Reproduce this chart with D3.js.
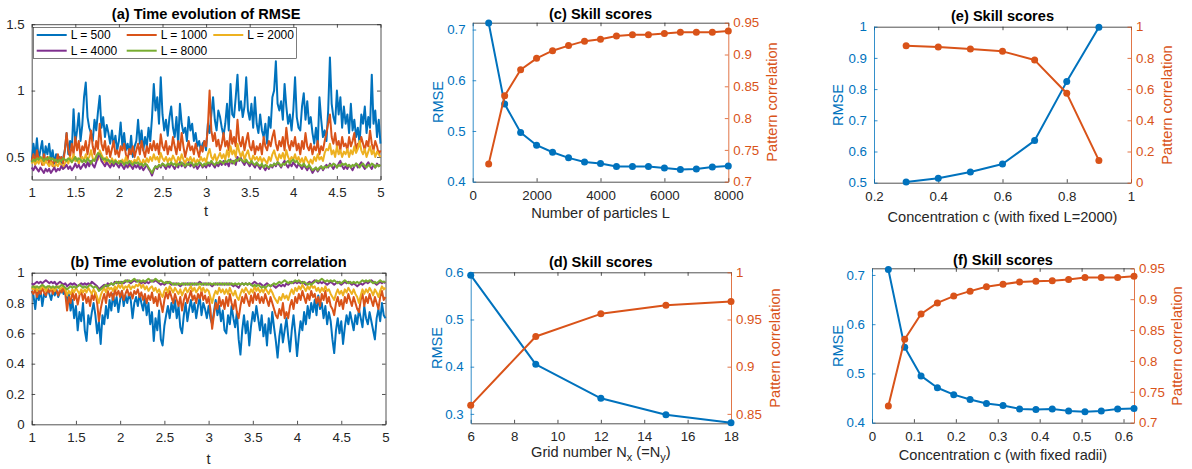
<!DOCTYPE html>
<html>
<head>
<meta charset="utf-8">
<script src="https://cdn.jsdelivr.net/npm/d3@7"></script>
<style>
body { margin: 0; background: #fff; }
text { font-family: "Liberation Sans", Arial, sans-serif; }
</style>
</head>
<body>
<svg id="chart" width="1192" height="469"></svg>
<script>
// time series sampled from t = 1 to 5
var tStart = 1, tStep = 0.02;

var rmse500 = [
 0.46,0.60,0.50,0.64,0.48,0.55,0.62,0.47,0.58,0.52, 0.60,0.48,0.55,0.45,0.52,0.47,0.50,0.44,0.49,0.55,
 0.68,0.52,0.62,0.55,0.86,0.60,0.70,0.83,0.62,0.74, 0.95,1.06,0.80,0.72,0.68,0.62,0.78,0.70,0.84,0.96,
 0.72,0.80,0.65,0.74,0.68,0.60,0.70,0.58,0.66,0.55, 0.62,0.76,0.58,0.68,0.55,0.60,0.52,0.66,0.50,0.58,
 0.62,0.78,0.60,0.70,0.55,0.65,0.58,0.72,0.62,0.80, 1.05,0.85,0.95,0.75,1.10,0.82,0.70,0.78,0.66,0.80,
 0.88,0.72,0.65,0.80,0.60,0.90,0.75,0.68,0.72,0.62, 0.80,0.70,0.75,0.62,0.68,0.58,0.62,0.55,0.60,0.62,
 0.55,0.75,0.68,0.82,0.95,0.78,0.70,0.85,0.80,0.72, 0.66,0.75,0.90,0.70,1.05,0.82,0.80,0.95,1.12,0.85,
 0.92,0.80,0.88,1.10,0.85,0.78,0.90,0.72,0.95,0.75, 0.68,0.82,0.70,0.65,0.75,0.60,0.80,0.72,0.95,1.00,
 1.22,0.90,0.85,0.92,0.78,1.05,0.88,0.75,0.82,0.70, 0.85,1.10,0.80,0.72,0.70,0.88,0.98,0.78,0.92,0.75,
 0.80,0.68,0.60,0.72,0.58,0.95,0.78,0.65,0.70,0.62, 0.85,1.25,0.90,0.80,0.75,1.00,0.82,0.95,0.72,0.88,
 0.75,0.82,0.68,0.90,0.70,0.78,0.65,0.72,0.60,0.82, 0.75,0.88,0.68,0.80,0.72,1.12,0.75,0.85,0.65,0.78,
 0.60];
var rmse1000 = [
 0.47,0.52,0.45,0.55,0.48,0.50,0.44,0.52,0.46,0.50, 0.45,0.49,0.43,0.48,0.46,0.52,0.47,0.50,0.45,0.55,
 0.68,0.55,0.50,0.60,0.52,0.65,0.55,0.62,0.50,0.58, 0.55,0.62,0.52,0.60,0.70,0.58,0.52,0.62,0.56,0.75,
 0.60,0.55,0.62,0.52,0.58,0.50,0.56,0.62,0.52,0.55, 0.50,0.58,0.55,0.60,0.52,0.48,0.56,0.52,0.58,0.50,
 0.55,0.60,0.52,0.62,0.55,0.50,0.58,0.53,0.60,0.55, 0.62,0.55,0.60,0.52,0.67,0.58,0.55,0.62,0.52,0.58,
 0.55,0.65,0.58,0.52,0.62,0.55,0.68,0.58,0.50,0.56, 0.62,0.55,0.58,0.52,0.60,0.55,0.50,0.58,0.54,0.62,
 0.58,0.72,1.00,0.70,0.62,0.68,0.58,0.63,0.55,0.60, 0.68,0.58,0.62,0.55,0.70,0.60,0.65,0.58,0.78,0.62,
 0.58,0.65,0.55,0.62,0.68,0.58,0.55,0.62,0.52,0.58, 0.55,0.60,0.52,0.65,0.58,0.55,0.62,0.58,0.65,0.70,
 0.60,0.55,0.62,0.58,0.65,0.55,0.72,0.60,0.55,0.62, 0.58,0.65,0.55,0.60,0.52,0.62,0.56,0.68,0.58,0.55,
 0.60,0.52,0.58,0.55,0.62,0.52,0.58,0.55,0.62,0.68, 0.75,0.82,0.65,0.60,0.68,0.58,0.62,0.55,0.65,0.58,
 0.60,0.55,0.65,0.58,0.62,0.68,0.55,0.60,0.58,0.65, 0.60,0.55,0.62,0.58,0.70,0.60,0.55,0.62,0.58,0.52,
 0.55];
var rmse2000 = [
 0.45,0.48,0.44,0.47,0.45,0.49,0.46,0.44,0.47,0.45, 0.43,0.46,0.44,0.42,0.45,0.43,0.46,0.44,0.42,0.45,
 0.48,0.45,0.50,0.46,0.52,0.47,0.49,0.45,0.48,0.50, 0.47,0.52,0.48,0.50,0.55,0.49,0.47,0.51,0.48,0.55,
 0.52,0.49,0.46,0.50,0.47,0.45,0.49,0.46,0.48,0.45, 0.47,0.44,0.48,0.45,0.50,0.46,0.43,0.47,0.45,0.48,
 0.46,0.50,0.47,0.44,0.48,0.45,0.49,0.46,0.50,0.47, 0.52,0.48,0.50,0.46,0.53,0.49,0.47,0.50,0.46,0.49,
 0.47,0.51,0.48,0.45,0.50,0.47,0.52,0.48,0.45,0.49, 0.47,0.50,0.46,0.49,0.45,0.48,0.46,0.50,0.47,0.49,
 0.46,0.52,0.56,0.50,0.48,0.52,0.47,0.50,0.53,0.49, 0.52,0.48,0.55,0.50,0.58,0.52,0.55,0.50,0.60,0.54,
 0.50,0.54,0.48,0.52,0.55,0.49,0.47,0.51,0.48,0.50, 0.47,0.50,0.46,0.49,0.47,0.45,0.50,0.47,0.52,0.55,
 0.50,0.47,0.52,0.49,0.53,0.48,0.55,0.50,0.47,0.50, 0.48,0.52,0.47,0.50,0.46,0.49,0.45,0.50,0.47,0.45,
 0.48,0.45,0.50,0.47,0.52,0.48,0.50,0.47,0.53,0.56, 0.55,0.60,0.52,0.55,0.50,0.58,0.52,0.55,0.50,0.54,
 0.52,0.56,0.50,0.55,0.52,0.58,0.53,0.56,0.62,0.55, 0.52,0.56,0.50,0.54,0.58,0.52,0.55,0.50,0.54,0.52,
 0.50];
var rmse4000 = [
 0.42,0.40,0.43,0.41,0.39,0.42,0.40,0.38,0.41,0.39, 0.41,0.38,0.40,0.42,0.39,0.41,0.40,0.43,0.41,0.42,
 0.44,0.41,0.43,0.40,0.42,0.45,0.42,0.44,0.41,0.43, 0.45,0.42,0.46,0.43,0.47,0.44,0.42,0.46,0.50,0.52,
 0.47,0.45,0.43,0.46,0.44,0.42,0.45,0.43,0.46,0.44, 0.42,0.45,0.43,0.41,0.44,0.42,0.45,0.43,0.41,0.44,
 0.42,0.44,0.41,0.43,0.40,0.42,0.44,0.41,0.39,0.36, 0.40,0.43,0.41,0.44,0.42,0.45,0.43,0.41,0.44,0.42,
 0.45,0.43,0.41,0.44,0.42,0.46,0.43,0.45,0.42,0.44, 0.46,0.43,0.45,0.42,0.44,0.41,0.43,0.45,0.42,0.44,
 0.42,0.45,0.43,0.46,0.44,0.42,0.45,0.43,0.46,0.44, 0.47,0.44,0.46,0.43,0.48,0.45,0.47,0.44,0.50,0.47,
 0.49,0.46,0.44,0.47,0.45,0.43,0.46,0.44,0.42,0.45, 0.43,0.41,0.44,0.42,0.40,0.43,0.41,0.44,0.42,0.45,
 0.43,0.46,0.44,0.42,0.45,0.47,0.44,0.42,0.45,0.43, 0.46,0.44,0.42,0.45,0.43,0.41,0.44,0.42,0.40,0.43,
 0.41,0.38,0.40,0.42,0.39,0.41,0.43,0.40,0.42,0.44, 0.42,0.45,0.43,0.41,0.44,0.42,0.45,0.47,0.43,0.41,
 0.43,0.41,0.44,0.42,0.40,0.43,0.45,0.42,0.44,0.46, 0.43,0.41,0.44,0.46,0.43,0.41,0.44,0.42,0.45,0.43,
 0.44];
var rmse8000 = [
 0.46,0.48,0.47,0.49,0.48,0.50,0.49,0.47,0.49,0.48, 0.50,0.48,0.49,0.47,0.48,0.46,0.48,0.47,0.49,0.48,
 0.47,0.49,0.48,0.46,0.48,0.50,0.47,0.49,0.48,0.46, 0.48,0.46,0.49,0.47,0.45,0.48,0.47,0.50,0.53,0.52,
 0.50,0.48,0.49,0.47,0.48,0.46,0.47,0.45,0.47,0.46, 0.45,0.47,0.46,0.44,0.46,0.45,0.47,0.45,0.44,0.46,
 0.45,0.46,0.44,0.45,0.43,0.45,0.44,0.42,0.40,0.38, 0.41,0.43,0.42,0.44,0.43,0.45,0.44,0.43,0.45,0.44,
 0.46,0.44,0.45,0.43,0.45,0.44,0.46,0.44,0.43,0.45, 0.44,0.46,0.45,0.43,0.45,0.44,0.46,0.45,0.43,0.45,
 0.44,0.46,0.45,0.47,0.45,0.44,0.46,0.45,0.47,0.46, 0.45,0.47,0.46,0.48,0.46,0.47,0.45,0.48,0.47,0.49,
 0.48,0.47,0.46,0.48,0.46,0.45,0.47,0.45,0.44,0.46, 0.44,0.43,0.45,0.42,0.44,0.43,0.42,0.44,0.43,0.45,
 0.44,0.46,0.45,0.43,0.45,0.44,0.46,0.47,0.45,0.47, 0.48,0.46,0.47,0.45,0.44,0.43,0.45,0.43,0.42,0.44,
 0.42,0.40,0.41,0.42,0.40,0.42,0.43,0.41,0.43,0.42, 0.43,0.44,0.43,0.45,0.44,0.42,0.44,0.43,0.45,0.44,
 0.45,0.43,0.44,0.42,0.44,0.43,0.45,0.44,0.42,0.44, 0.45,0.43,0.42,0.44,0.43,0.45,0.44,0.42,0.44,0.43,
 0.44];

var pc500 = [
 0.88,0.85,0.76,0.87,0.82,0.89,0.78,0.86,0.84,0.90, 0.86,0.82,0.88,0.85,0.89,0.84,0.87,0.90,0.86,0.88,
 0.80,0.86,0.75,0.82,0.70,0.78,0.62,0.74,0.68,0.80, 0.62,0.55,0.72,0.66,0.74,0.80,0.72,0.60,0.68,0.53,
 0.72,0.66,0.78,0.70,0.82,0.75,0.86,0.78,0.84,0.74, 0.82,0.88,0.78,0.85,0.80,0.86,0.82,0.70,0.80,0.84,
 0.78,0.86,0.80,0.75,0.84,0.72,0.80,0.66,0.74,0.55, 0.70,0.62,0.75,0.56,0.52,0.65,0.72,0.78,0.70,0.80,
 0.74,0.82,0.70,0.78,0.64,0.60,0.72,0.80,0.68,0.76, 0.82,0.74,0.80,0.70,0.78,0.84,0.72,0.80,0.76,0.70,
 0.78,0.70,0.66,0.74,0.82,0.72,0.78,0.68,0.75,0.62, 0.60,0.72,0.66,0.78,0.70,0.64,0.74,0.56,0.46,0.62,
 0.72,0.60,0.68,0.52,0.65,0.74,0.68,0.78,0.70,0.62, 0.72,0.58,0.66,0.52,0.70,0.60,0.74,0.64,0.55,0.44,
 0.58,0.66,0.54,0.62,0.70,0.58,0.48,0.62,0.72,0.60, 0.45,0.58,0.68,0.62,0.74,0.66,0.78,0.70,0.80,0.74,
 0.82,0.72,0.85,0.76,0.80,0.70,0.78,0.66,0.74,0.68, 0.56,0.47,0.62,0.70,0.60,0.68,0.53,0.64,0.72,0.66,
 0.74,0.68,0.62,0.72,0.66,0.76,0.70,0.64,0.78,0.70, 0.66,0.74,0.68,0.62,0.56,0.70,0.76,0.68,0.80,0.72,
 0.70];
var pc1000 = [
 0.88,0.86,0.89,0.84,0.88,0.86,0.90,0.87,0.85,0.89, 0.87,0.90,0.86,0.89,0.88,0.85,0.89,0.87,0.90,0.86,
 0.75,0.84,0.80,0.88,0.82,0.86,0.79,0.85,0.88,0.82, 0.86,0.80,0.84,0.78,0.86,0.82,0.87,0.80,0.68,0.76,
 0.82,0.86,0.80,0.88,0.84,0.87,0.82,0.89,0.85,0.88, 0.84,0.88,0.82,0.86,0.89,0.85,0.87,0.83,0.88,0.86,
 0.89,0.84,0.87,0.82,0.86,0.80,0.85,0.82,0.87,0.80, 0.84,0.78,0.86,0.80,0.74,0.82,0.87,0.83,0.88,0.84,
 0.80,0.86,0.82,0.78,0.84,0.75,0.82,0.86,0.80,0.84, 0.88,0.82,0.85,0.80,0.86,0.83,0.88,0.82,0.85,0.80,
 0.84,0.76,0.63,0.72,0.80,0.76,0.84,0.78,0.82,0.76, 0.84,0.78,0.86,0.80,0.76,0.82,0.74,0.70,0.78,0.84,
 0.80,0.86,0.82,0.78,0.85,0.80,0.87,0.82,0.86,0.80, 0.84,0.80,0.86,0.82,0.78,0.84,0.80,0.76,0.72,0.70,
 0.76,0.72,0.80,0.70,0.74,0.70,0.78,0.82,0.76,0.84, 0.80,0.86,0.82,0.88,0.84,0.80,0.86,0.82,0.88,0.84,
 0.86,0.80,0.84,0.78,0.86,0.82,0.88,0.80,0.84,0.78, 0.76,0.72,0.80,0.84,0.78,0.82,0.76,0.84,0.80,0.86,
 0.82,0.78,0.84,0.80,0.76,0.74,0.82,0.86,0.78,0.84, 0.80,0.86,0.82,0.78,0.84,0.80,0.76,0.84,0.88,0.82,
 0.84];
var pc2000 = [
 0.90,0.89,0.91,0.88,0.90,0.89,0.91,0.90,0.88,0.90, 0.91,0.89,0.90,0.88,0.90,0.91,0.89,0.90,0.91,0.89,
 0.85,0.88,0.86,0.89,0.87,0.90,0.88,0.86,0.89,0.87, 0.89,0.87,0.90,0.88,0.86,0.89,0.87,0.84,0.80,0.85,
 0.88,0.90,0.87,0.91,0.89,0.90,0.88,0.91,0.89,0.92, 0.90,0.92,0.89,0.91,0.90,0.92,0.89,0.91,0.90,0.92,
 0.91,0.93,0.90,0.92,0.89,0.91,0.88,0.90,0.91,0.88, 0.90,0.87,0.89,0.86,0.84,0.88,0.90,0.87,0.91,0.89,
 0.87,0.90,0.88,0.86,0.89,0.85,0.88,0.90,0.87,0.89, 0.91,0.88,0.90,0.87,0.89,0.91,0.88,0.90,0.87,0.89,
 0.88,0.84,0.80,0.85,0.88,0.86,0.90,0.87,0.89,0.86, 0.89,0.86,0.90,0.87,0.85,0.88,0.84,0.82,0.86,0.89,
 0.87,0.90,0.88,0.86,0.89,0.87,0.91,0.88,0.90,0.87, 0.89,0.87,0.90,0.88,0.86,0.89,0.87,0.84,0.82,0.80,
 0.84,0.82,0.86,0.83,0.85,0.82,0.86,0.89,0.86,0.90, 0.88,0.91,0.89,0.92,0.90,0.88,0.91,0.89,0.92,0.90,
 0.91,0.88,0.90,0.87,0.90,0.88,0.91,0.88,0.89,0.86, 0.84,0.82,0.86,0.89,0.86,0.88,0.85,0.89,0.87,0.90,
 0.88,0.86,0.89,0.86,0.84,0.80,0.85,0.89,0.86,0.89, 0.87,0.90,0.88,0.85,0.89,0.87,0.84,0.88,0.91,0.89,
 0.90];
var pc4000 = [
 0.93,0.92,0.93,0.94,0.93,0.94,0.93,0.94,0.95,0.94, 0.93,0.94,0.93,0.94,0.92,0.93,0.94,0.93,0.92,0.93,
 0.91,0.92,0.93,0.92,0.93,0.92,0.91,0.92,0.93,0.92, 0.93,0.92,0.93,0.92,0.94,0.93,0.92,0.91,0.89,0.90,
 0.91,0.92,0.91,0.93,0.92,0.93,0.92,0.94,0.93,0.94, 0.93,0.94,0.93,0.94,0.95,0.94,0.93,0.94,0.95,0.94,
 0.95,0.94,0.93,0.94,0.93,0.94,0.93,0.94,0.95,0.94, 0.95,0.94,0.93,0.92,0.93,0.92,0.93,0.94,0.93,0.92,
 0.93,0.92,0.93,0.92,0.91,0.92,0.93,0.92,0.93,0.92, 0.93,0.92,0.93,0.92,0.93,0.94,0.93,0.92,0.93,0.92,
 0.93,0.92,0.91,0.92,0.93,0.92,0.93,0.92,0.93,0.92, 0.93,0.92,0.93,0.92,0.91,0.92,0.91,0.90,0.92,0.93,
 0.92,0.93,0.92,0.93,0.92,0.93,0.94,0.93,0.92,0.93, 0.92,0.91,0.92,0.93,0.92,0.91,0.92,0.91,0.90,0.91,
 0.92,0.91,0.92,0.91,0.93,0.92,0.93,0.94,0.93,0.94, 0.93,0.94,0.93,0.94,0.93,0.92,0.93,0.94,0.93,0.94,
 0.95,0.94,0.93,0.94,0.93,0.94,0.93,0.92,0.93,0.94, 0.93,0.92,0.93,0.94,0.93,0.92,0.93,0.94,0.93,0.94,
 0.93,0.92,0.93,0.92,0.91,0.92,0.93,0.92,0.93,0.94, 0.93,0.94,0.95,0.94,0.93,0.92,0.93,0.94,0.93,0.94,
 0.93];
var pc8000 = [
 0.90,0.91,0.90,0.91,0.90,0.91,0.92,0.91,0.90,0.91, 0.91,0.90,0.91,0.90,0.91,0.90,0.91,0.92,0.91,0.90,
 0.89,0.90,0.91,0.90,0.91,0.90,0.91,0.92,0.91,0.90, 0.91,0.90,0.91,0.92,0.91,0.90,0.91,0.90,0.88,0.89,
 0.90,0.91,0.92,0.91,0.92,0.93,0.92,0.93,0.94,0.93, 0.94,0.93,0.94,0.95,0.94,0.95,0.94,0.95,0.96,0.95,
 0.94,0.95,0.94,0.95,0.94,0.95,0.96,0.95,0.94,0.95, 0.96,0.95,0.94,0.95,0.94,0.93,0.94,0.93,0.94,0.93,
 0.92,0.93,0.92,0.93,0.92,0.93,0.92,0.93,0.92,0.93, 0.92,0.93,0.92,0.93,0.92,0.93,0.92,0.93,0.92,0.93,
 0.92,0.93,0.92,0.93,0.92,0.93,0.92,0.93,0.92,0.93, 0.92,0.93,0.92,0.93,0.92,0.93,0.92,0.93,0.92,0.93,
 0.92,0.93,0.92,0.93,0.92,0.91,0.92,0.91,0.92,0.91, 0.90,0.91,0.90,0.91,0.92,0.91,0.92,0.93,0.92,0.93,
 0.94,0.93,0.94,0.95,0.94,0.93,0.94,0.93,0.94,0.95, 0.94,0.95,0.94,0.93,0.94,0.93,0.92,0.93,0.92,0.93,
 0.94,0.95,0.94,0.95,0.96,0.95,0.94,0.95,0.94,0.95, 0.94,0.95,0.94,0.93,0.94,0.93,0.94,0.95,0.94,0.93,
 0.94,0.93,0.94,0.93,0.94,0.93,0.94,0.95,0.94,0.95, 0.94,0.95,0.94,0.93,0.94,0.93,0.94,0.95,0.94,0.94,
 0.94];

var seriesNames = ["L = 500", "L = 1000", "L = 2000", "L = 4000", "L = 8000"];

// skill scores against number of particles
var particlesL = [500,1000,1500,2000,2500,3000,3500,4000,4500,5000,5500,6000,6500,7000,7500,8000];
var rmseL = [0.713,0.553,0.497,0.472,0.458,0.447,0.439,0.436,0.430,0.430,0.430,0.427,0.424,0.425,0.429,0.431];
var pcL   = [0.728,0.835,0.876,0.894,0.906,0.914,0.921,0.924,0.929,0.931,0.931,0.933,0.935,0.935,0.935,0.937];

// skill scores against grid number
var gridN = [6,9,12,15,18];
var rmseGrid = [0.594,0.405,0.333,0.298,0.281];
var pcGrid   = [0.859,0.932,0.956,0.965,0.969];

// concentration with fixed L
var concL = [0.3,0.4,0.5,0.6,0.7,0.8,0.9];
var rmseConcL = [0.502,0.514,0.534,0.560,0.635,0.824,0.998];
var pcConcL   = [0.878,0.870,0.857,0.842,0.786,0.573,0.143];

// concentration with fixed radii
var concR = [0.039,0.078,0.117,0.156,0.195,0.234,0.273,0.3125,0.352,0.391,0.430,0.469,0.508,0.547,0.586,0.625];
var rmseConcR = [0.711,0.553,0.495,0.471,0.457,0.447,0.439,0.435,0.428,0.427,0.428,0.424,0.422,0.424,0.428,0.429];
var pcConcR   = [0.727,0.835,0.876,0.894,0.905,0.913,0.920,0.924,0.928,0.929,0.930,0.932,0.935,0.935,0.935,0.937];

var blue = "#0072BD", orange = "#D95319", yellow = "#EDB120", purple = "#7E2F8E", green = "#77AC30";
var grey = "#262626";
var seriesColors = [blue, orange, yellow, purple, green];

var svg = d3.select("#chart");
svg.append("rect").attr("width", 1192).attr("height", 469).attr("fill", "#fff");

var fmt = function(d) { return String(+d.toFixed(4)); };

function styleAxis(g, color) {
	g.attr("font-family", null).attr("font-size", null);
	g.selectAll(".domain").attr("stroke", color).attr("stroke-width", 0.8);
	g.selectAll(".tick line").attr("stroke", color).attr("stroke-width", 0.8);
	g.selectAll(".tick text").attr("fill", color).style("font-size", "13.3px");
}

function setPanel(p) {
	var x = d3.scaleLinear().domain(p.xd).range([p.x0, p.x1]);
	var yl = d3.scaleLinear().domain(p.yl).range([p.y1, p.y0]);
	var yr = p.yr ? d3.scaleLinear().domain(p.yr).range([p.y1, p.y0]) : null;
	var g = svg.append("g");

	g.append("g").attr("transform", "translate(0," + p.y0 + ")")
		.call(d3.axisTop(x).tickValues(p.xt).tickSizeInner(-3.5).tickSizeOuter(0).tickFormat(""))
		.call(styleAxis, grey);
	g.append("g").attr("transform", "translate(0," + p.y1 + ")")
		.call(d3.axisBottom(x).tickValues(p.xt).tickSizeInner(-3.5).tickSizeOuter(0).tickPadding(8.5).tickFormat(fmt))
		.call(styleAxis, grey);

	var lc = yr ? blue : grey;
	g.append("g").attr("transform", "translate(" + p.x0 + ",0)")
		.call(d3.axisLeft(yl).tickValues(p.ylt).tickSizeInner(-3.5).tickSizeOuter(0).tickPadding(7).tickFormat(fmt))
		.call(styleAxis, lc);

	if (yr) {
		g.append("g").attr("transform", "translate(" + p.x1 + ",0)")
			.call(d3.axisRight(yr).tickValues(p.yrt).tickSizeInner(-3.5).tickSizeOuter(0).tickPadding(5).tickFormat(fmt))
			.call(styleAxis, orange);
	} else {
		g.append("g").attr("transform", "translate(" + p.x1 + ",0)")
			.call(d3.axisRight(yl).tickValues(p.ylt).tickSizeInner(-3.5).tickSizeOuter(0).tickFormat(""))
			.call(styleAxis, grey);
	}

	g.append("text").attr("x", (p.x0 + p.x1) / 2).attr("y", p.titleY)
		.attr("text-anchor", "middle").attr("font-weight", "bold").attr("fill", "#000")
		.style("font-size", "14.6px").text(p.title);

	return {x: x, yl: yl, yr: yr, g: g};
}

function xLabel(x, y, txt) {
	return svg.append("text").attr("x", x).attr("y", y).attr("text-anchor", "middle")
		.attr("fill", grey).style("font-size", "14.6px").text(txt);
}

function yLabel(x, y, txt, color) {
	svg.append("text").attr("transform", "translate(" + x + "," + y + ") rotate(-90)")
		.attr("text-anchor", "middle").attr("fill", color).style("font-size", "14.6px").text(txt);
}

function timeSeries(pan, list) {
	var line = d3.line()
		.x(function(d, i) { return pan.x(tStart + i * tStep); })
		.y(function(d) { return pan.yl(d); });
	list.forEach(function(arr, k) {
		pan.g.append("path").datum(arr)
			.attr("d", line).attr("fill", "none")
			.attr("stroke", seriesColors[k]).attr("stroke-width", 2)
			.attr("stroke-linejoin", "round");
	});
}

function skillLines(pan, xs, left, right) {
	[[left, pan.yl, blue], [right, pan.yr, orange]].forEach(function(s) {
		var pts = xs.map(function(v, i) { return [v, s[0][i]]; });
		var line = d3.line().x(function(d) { return pan.x(d[0]); }).y(function(d) { return s[1](d[1]); });
		pan.g.append("path").datum(pts).attr("d", line).attr("fill", "none")
			.attr("stroke", s[2]).attr("stroke-width", 2).attr("stroke-linejoin", "round");
		pan.g.selectAll(null).data(pts).enter().append("circle")
			.attr("cx", function(d) { return pan.x(d[0]); })
			.attr("cy", function(d) { return s[1](d[1]); })
			.attr("r", 3.5).attr("fill", s[2]);
	});
}

var timeTicks = [1,1.5,2,2.5,3,3.5,4,4.5,5];

// (a)
var pa = setPanel({x0: 31.7, x1: 380.5, y0: 24.2, y1: 179.5, xd: [1, 5], yl: [0.33, 1.5],
	xt: timeTicks, ylt: [0.5, 1, 1.5], title: "(a) Time evolution of RMSE", titleY: 19});
timeSeries(pa, [rmse500, rmse1000, rmse2000, rmse4000, rmse8000]);
xLabel(206, 216, "t");

// legend of (a)
var lg = svg.append("g");
lg.append("rect").attr("x", 33.3).attr("y", 27.3).attr("width", 263.4).attr("height", 31)
	.attr("fill", "#fff").attr("stroke", grey).attr("stroke-width", 0.6);
var legendPos = [[36.7, 35], [126.7, 35], [213.3, 35], [36.7, 50.7], [126.7, 50.7]];
seriesNames.forEach(function(name, k) {
	var p = legendPos[k];
	lg.append("line").attr("x1", p[0]).attr("x2", p[0] + 30).attr("y1", p[1]).attr("y2", p[1])
		.attr("stroke", seriesColors[k]).attr("stroke-width", 2);
	lg.append("text").attr("x", p[0] + 34).attr("y", p[1]).attr("dy", "0.35em")
		.attr("fill", "#000").style("font-size", "12px").text(name);
});

// (b)
var pb = setPanel({x0: 31.7, x1: 385.5, y0: 272.7, y1: 424.3, xd: [1, 5], yl: [0, 1],
	xt: timeTicks, ylt: [0, 0.2, 0.4, 0.6, 0.8, 1], title: "(b) Time evolution of pattern correlation", titleY: 267});
timeSeries(pb, [pc500, pc1000, pc2000, pc4000, pc8000]);
xLabel(208.6, 464, "t");

// (c)
var pc = setPanel({x0: 472.7, x1: 728.3, y0: 22.7, y1: 181.7, xd: [0, 8000], yl: [0.4, 0.7135], yr: [0.7, 0.95],
	xt: [0, 2000, 4000, 6000, 8000], ylt: [0.4, 0.5, 0.6, 0.7], yrt: [0.7, 0.75, 0.8, 0.85, 0.9, 0.95],
	title: "(c) Skill scores", titleY: 19});
skillLines(pc, particlesL, rmseL, pcL);
xLabel(600.5, 218, "Number of particles L");
yLabel(443, 102, "RMSE", blue);
yLabel(777, 102, "Pattern correlation", orange);

// (d)
var pd = setPanel({x0: 470.7, x1: 731, y0: 272.3, y1: 423.3, xd: [6, 18], yl: [0.28, 0.6], yr: [0.84, 1],
	xt: [6, 8, 10, 12, 14, 16, 18], ylt: [0.3, 0.4, 0.5, 0.6], yrt: [0.85, 0.9, 0.95, 1],
	title: "(d) Skill scores", titleY: 266.5});
skillLines(pd, gridN, rmseGrid, pcGrid);
var dl = xLabel(600.9, 457, "Grid number N");
dl.append("tspan").attr("dy", 4).style("font-size", "11px").text("x");
dl.append("tspan").attr("dy", -4).text(" (=N");
dl.append("tspan").attr("dy", 4).style("font-size", "11px").text("y");
dl.append("tspan").attr("dy", -4).text(")");
yLabel(442, 348, "RMSE", blue);
yLabel(780, 348, "Pattern correlation", orange);

// (e)
var pe = setPanel({x0: 874, x1: 1131, y0: 26.7, y1: 182.7, xd: [0.2, 1], yl: [0.5, 1], yr: [0, 1],
	xt: [0.2, 0.4, 0.6, 0.8, 1], ylt: [0.5, 0.6, 0.7, 0.8, 0.9, 1], yrt: [0, 0.2, 0.4, 0.6, 0.8, 1],
	title: "(e) Skill scores", titleY: 21});
skillLines(pe, concL, rmseConcL, pcConcL);
xLabel(1002.5, 221.5, "Concentration c (with fixed L=2000)");
yLabel(843, 105, "RMSE", blue);
yLabel(1172, 105, "Pattern correlation", orange);

// (f)
var pf = setPanel({x0: 872, x1: 1134, y0: 268.3, y1: 422.7, xd: [0, 0.625], yl: [0.4, 0.7135], yr: [0.7, 0.95],
	xt: [0, 0.1, 0.2, 0.3, 0.4, 0.5, 0.6], ylt: [0.4, 0.5, 0.6, 0.7], yrt: [0.7, 0.75, 0.8, 0.85, 0.9, 0.95],
	title: "(f) Skill scores", titleY: 265});
skillLines(pf, concR, rmseConcR, pcConcR);
xLabel(1003, 460, "Concentration c (with fixed radii)");
yLabel(843, 346, "RMSE", blue);
yLabel(1182, 346, "Pattern correlation", orange);
</script>
</body>
</html>
